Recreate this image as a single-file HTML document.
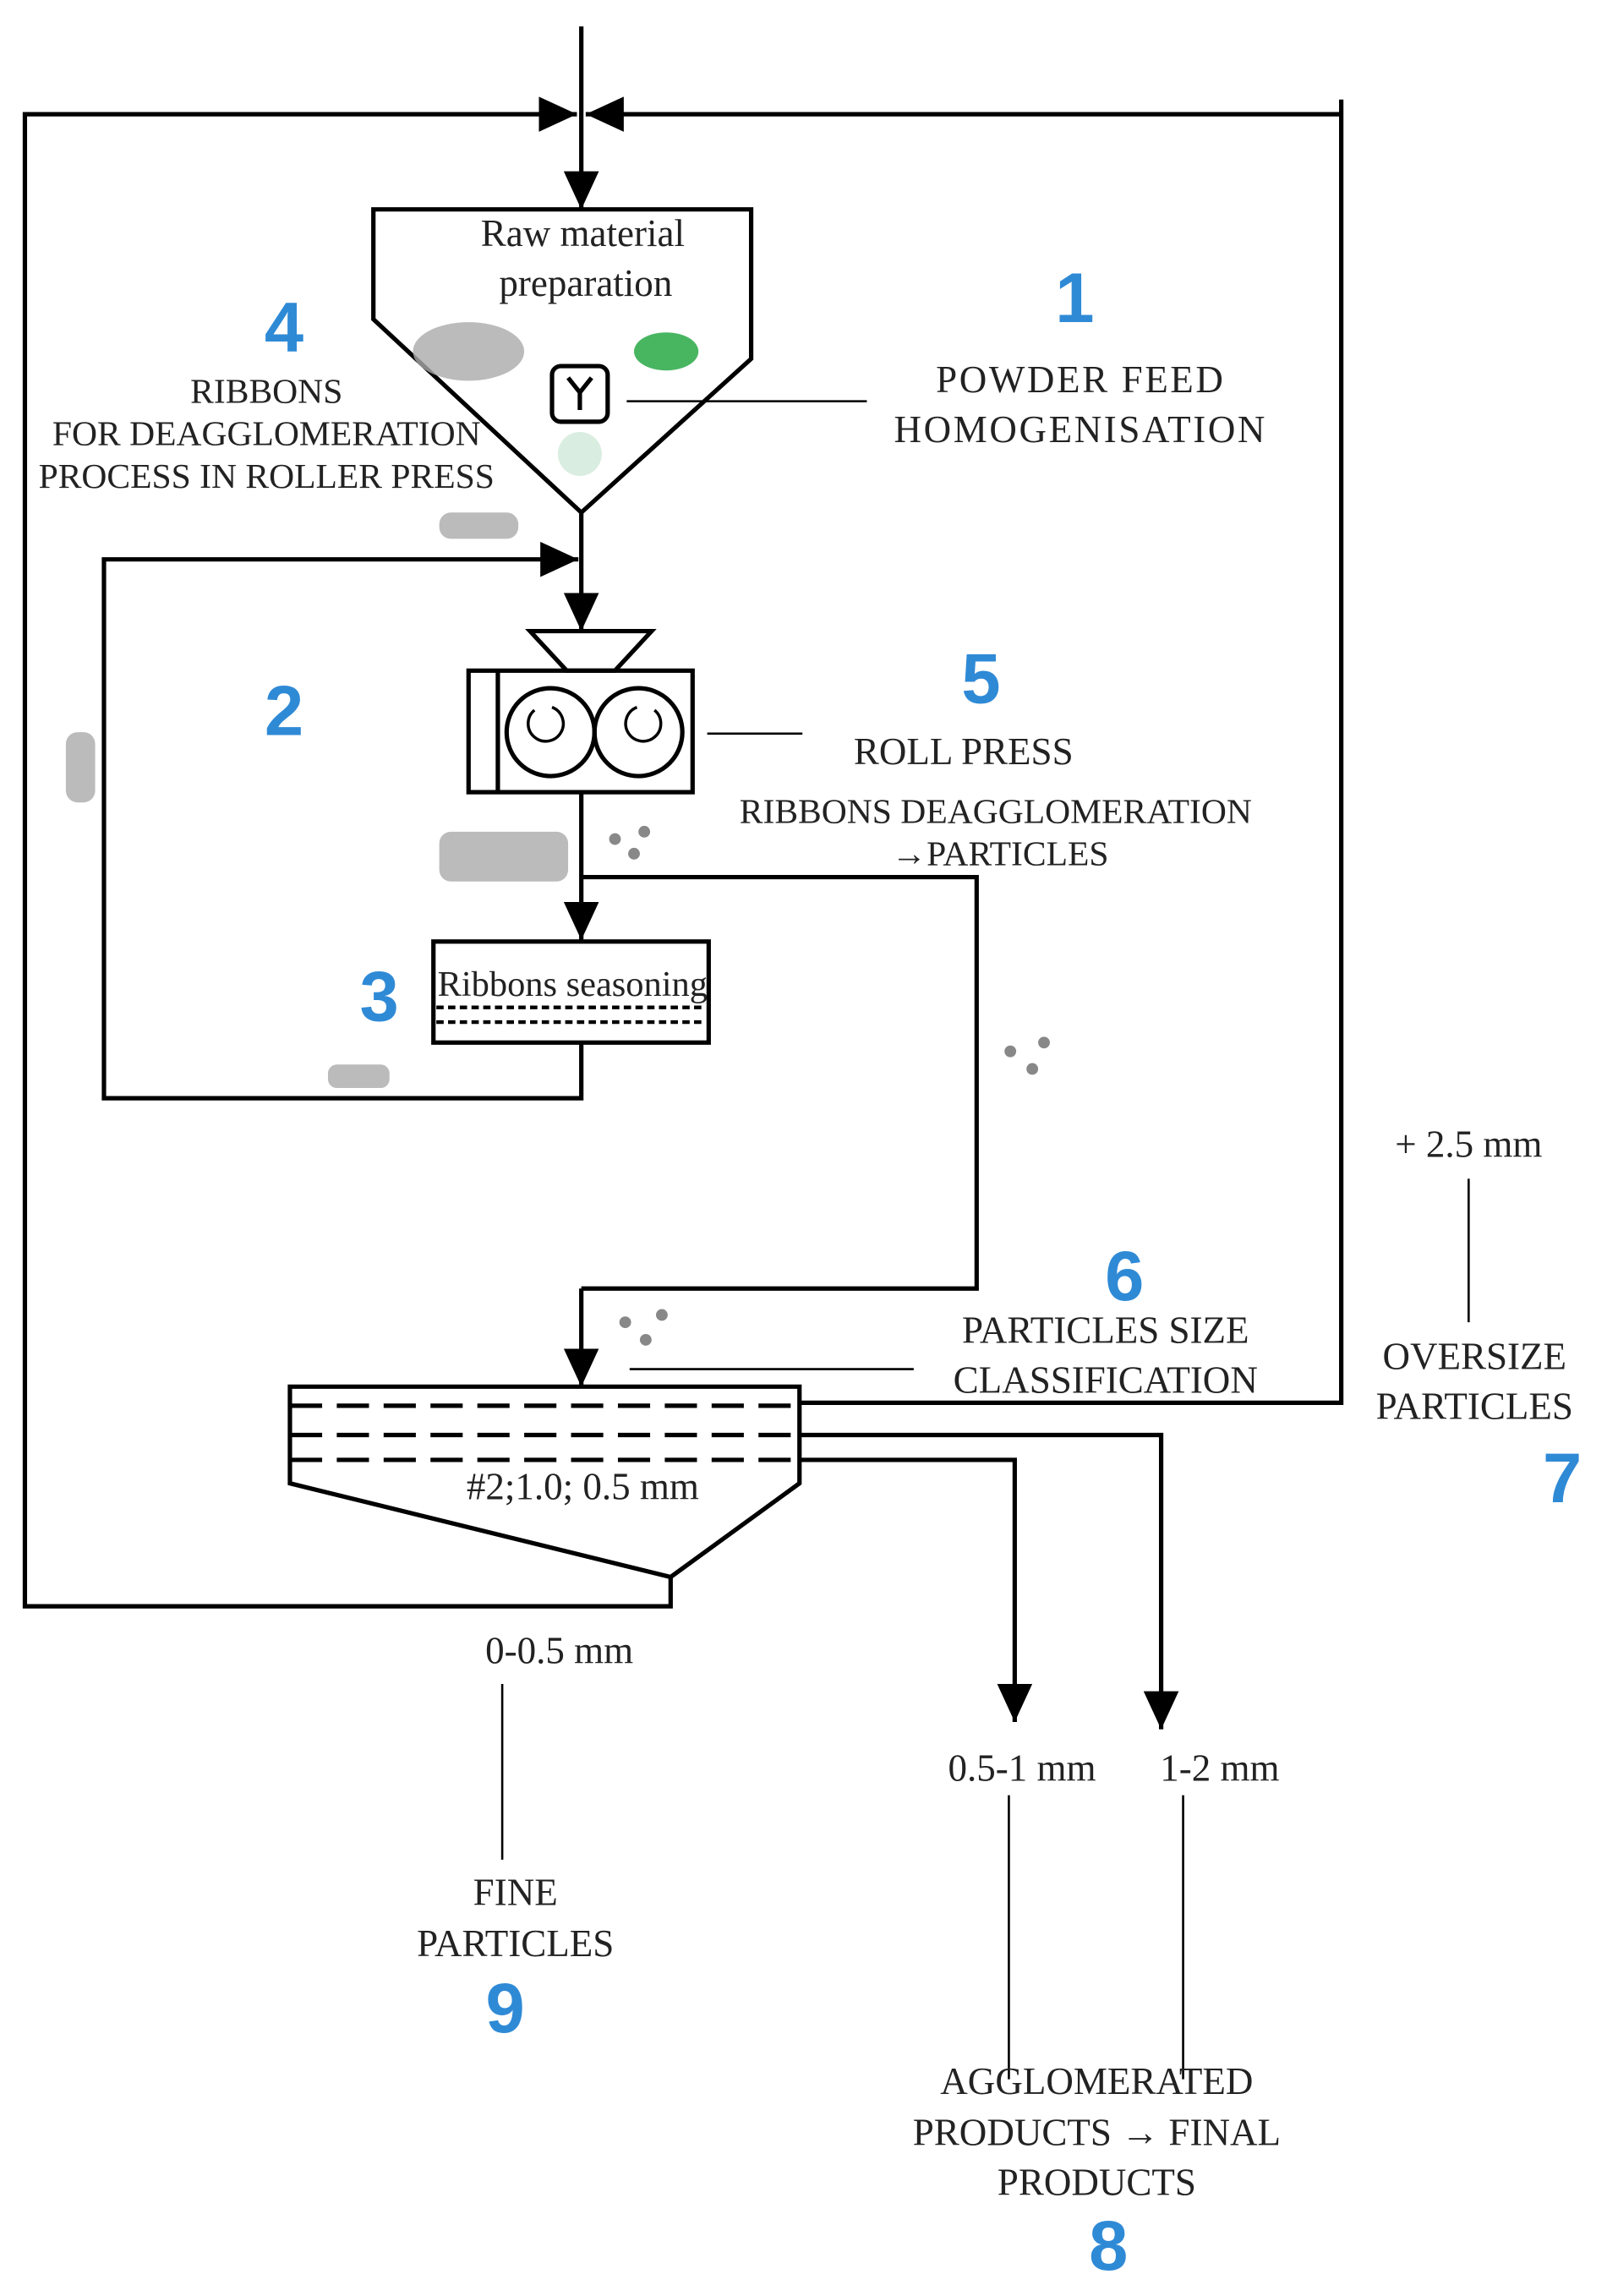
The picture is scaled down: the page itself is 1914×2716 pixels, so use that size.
<!DOCTYPE html>
<html><head><meta charset="utf-8"><style>
html,body{margin:0;padding:0;background:#fff}
svg{display:block}
text{font-family:"Liberation Serif",serif;fill:#222;font-size:26px}
.n{font-family:"Liberation Sans",sans-serif;fill:#2f8ad6;font-weight:bold;font-size:48px}
</style></head><body>
<svg width="1914" height="2716" viewBox="0 0 1105 1568" xmlns="http://www.w3.org/2000/svg">
<defs>
<marker id="b" markerWidth="26" markerHeight="24" refX="26" refY="12" orient="auto" markerUnits="userSpaceOnUse"><path d="M0,0 L26,12 L0,24 z" fill="#000"/></marker></defs>
<g stroke="#000" stroke-width="3" fill="none">
<line x1="397" y1="18" x2="397" y2="143" marker-end="url(#b)"/>
<polyline points="458,1077 458,1097 17,1097 17,78 394,78" marker-end="url(#b)"/>
<polyline points="546,958 916,958 916,68"/>
<line x1="916" y1="78" x2="400" y2="78" marker-end="url(#b)"/>
<polygon points="255,143 513,143 513,245 397,350 255,218"/>
<line x1="397" y1="350" x2="397" y2="431" marker-end="url(#b)"/>
<polyline points="397,712 397,750 71,750 71,382 395,382" marker-end="url(#b)"/>
<polygon points="362,431 445,431 420,458 387,458"/>
<rect x="320" y="458" width="153" height="83"/>
<line x1="340" y1="458" x2="340" y2="541"/>
<circle cx="376" cy="500" r="30"/><circle cx="436" cy="500" r="30"/>
<line x1="397" y1="541" x2="397" y2="642" marker-end="url(#b)"/>
<polyline points="397,599 667,599 667,880 397,880"/>
<line x1="397" y1="880" x2="397" y2="947" marker-end="url(#b)"/>
<rect x="296" y="643" width="188" height="69"/>
<polygon points="198,947 546,947 546,1013 458,1077 198,1013"/>
<polyline points="546,980 793,980 793,1181" marker-end="url(#b)"/>
<polyline points="546,997 693,997 693,1176" marker-end="url(#b)"/>
<rect x="377" y="250" width="38" height="38" rx="6"/>
</g>
<g stroke="#000" stroke-width="3" stroke-dasharray="22,10">
<line x1="198" y1="960" x2="546" y2="960"/><line x1="198" y1="980" x2="546" y2="980"/><line x1="198" y1="997" x2="546" y2="997"/>
</g>
<g stroke="#000" stroke-width="2.5" stroke-dasharray="5,3">
<line x1="298" y1="688" x2="482" y2="688"/><line x1="298" y1="698" x2="482" y2="698"/>
</g>
<g stroke="#000" stroke-width="1.5" fill="none">
<line x1="428" y1="274" x2="592" y2="274"/><line x1="483" y1="501" x2="548" y2="501"/>
<line x1="430" y1="935" x2="624" y2="935"/><line x1="1003" y1="805" x2="1003" y2="903"/>
<line x1="343" y1="1150" x2="343" y2="1270"/><line x1="689" y1="1226" x2="689" y2="1420"/><line x1="808" y1="1226" x2="808" y2="1420"/>
<path d="M365,485 a12,12 0 1 0 12,-2" stroke-width="2"/><path d="M447,485 a12,12 0 1 1 -12,-2" stroke-width="2"/>
<path d="M388,258 l8,10 l8,-10 M396,268 v12" stroke-width="3"/>
</g>
<g fill="#aaa" opacity=".8"><ellipse cx="320" cy="240" rx="38" ry="20"/><ellipse cx="455" cy="240" rx="22" ry="13" fill="#1aa23a"/><circle cx="396" cy="310" r="15" fill="#cfe8d8"/>
<rect x="300" y="350" width="54" height="18" rx="8"/><rect x="45" y="500" width="20" height="48" rx="8"/>
<rect x="300" y="568" width="88" height="34" rx="8"/><rect x="224" y="727" width="42" height="16" rx="6"/></g>
<g fill="#888"><circle cx="420" cy="573" r="4"/><circle cx="440" cy="568" r="4"/><circle cx="433" cy="583" r="4"/><circle cx="690" cy="718" r="4"/><circle cx="713" cy="712" r="4"/><circle cx="705" cy="730" r="4"/><circle cx="427" cy="903" r="4"/><circle cx="452" cy="898" r="4"/><circle cx="441" cy="915" r="4"/></g>
<text x="398" y="168" text-anchor="middle">Raw material</text>
<text x="400" y="202" text-anchor="middle">preparation</text>
<text x="738" y="268" text-anchor="middle" letter-spacing="1.5">POWDER FEED</text>
<text x="738" y="302" text-anchor="middle" letter-spacing="1.5">HOMOGENISATION</text>
<text x="182" y="275" text-anchor="middle" style="font-size:24px">RIBBONS</text>
<text x="182" y="304" text-anchor="middle" style="font-size:24px">FOR DEAGGLOMERATION</text>
<text x="182" y="333" text-anchor="middle" style="font-size:24px">PROCESS IN ROLLER PRESS</text>
<text x="658" y="522" text-anchor="middle">ROLL PRESS</text>
<text x="680" y="562" text-anchor="middle" style="font-size:24px">RIBBONS DEAGGLOMERATION</text>
<text x="683" y="591" text-anchor="middle" style="font-size:24px">→PARTICLES</text>
<text x="391" y="680" text-anchor="middle" style="font-size:24.5px">Ribbons seasoning</text>
<text x="755" y="917" text-anchor="middle">PARTICLES SIZE</text>
<text x="755" y="951" text-anchor="middle">CLASSIFICATION</text>
<text x="398" y="1024" text-anchor="middle">#2;1.0; 0.5 mm</text>
<text x="1003" y="790" text-anchor="middle">+ 2.5 mm</text>
<text x="1007" y="935" text-anchor="middle">OVERSIZE</text>
<text x="1007" y="969" text-anchor="middle">PARTICLES</text>
<text x="382" y="1136" text-anchor="middle">0-0.5 mm</text>
<text x="698" y="1216" text-anchor="middle">0.5-1 mm</text>
<text x="833" y="1216" text-anchor="middle">1-2 mm</text>
<text x="352" y="1301" text-anchor="middle">FINE</text>
<text x="352" y="1336" text-anchor="middle">PARTICLES</text>
<text x="749" y="1430" text-anchor="middle">AGGLOMERATED</text>
<text x="749" y="1465" text-anchor="middle">PRODUCTS → FINAL</text>
<text x="749" y="1499" text-anchor="middle">PRODUCTS</text>
<text class="n" x="734" y="220" text-anchor="middle">1</text>
<text class="n" x="194" y="240" text-anchor="middle">4</text>
<text class="n" x="194" y="502" text-anchor="middle">2</text>
<text class="n" x="670" y="480" text-anchor="middle">5</text>
<text class="n" x="259" y="697" text-anchor="middle">3</text>
<text class="n" x="768" y="888" text-anchor="middle">6</text>
<text class="n" x="1067" y="1026" text-anchor="middle">7</text>
<text class="n" x="345" y="1388" text-anchor="middle">9</text>
<text class="n" x="757" y="1550" text-anchor="middle">8</text>
</svg>
</body></html>
